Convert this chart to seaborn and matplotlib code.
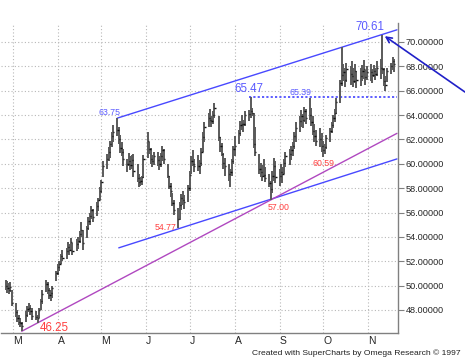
import pandas as pd
import matplotlib
matplotlib.use("Agg")
import matplotlib.pyplot as plt
import matplotlib.dates as mdates
import matplotlib.ticker as mticker
import seaborn as sns

# daily bars, one row per week (Mon-Fri), 24 Feb 1997 - 19 Nov 1997
highs = [
    50.5, 50.4, 50.2, 50.3, 49.6,
    48.6, 48.0, 47.6, 47.3, 47.0,
    47.9, 48.3, 48.6, 48.4, 48.2,
    47.9, 47.6, 48.2, 48.9, 49.6,
    50.5, 50.3, 49.8, 49.6, 50.0,
    51.2, 51.8, 52.0, 52.6, 52.9,
    53.1, 53.6, 53.4, 53.9, 53.5,
    53.8, 54.0, 54.5, 55.2, 54.6,
    54.9, 55.6, 56.0, 56.5, 56.3,
    56.9, 57.2, 58.1, 58.7, 60.2,
    60.8, 61.4, 61.9, 62.6, 63.2,
    63.75, 63.0, 62.4, 61.8, 61.2,
    60.4, 60.9, 60.6, 60.7, 60.8,
    60.0, 59.2, 58.9, 59.0, 60.7,
    62.6, 61.8, 61.3, 60.7, 61.0,
    61.0, 60.6, 60.9, 61.5, 61.2,
    60.0, 59.0, 58.4, 57.6, 57.0,
    56.4, 56.9, 57.5, 57.8, 57.4,
    58.3, 59.4, 60.6, 61.1, 60.4,
    60.7, 60.3, 61.3, 62.6, 63.4,
    64.2, 64.5, 63.9, 64.3, 65.0,
    63.9, 62.2, 61.7, 60.9, 60.5,
    60.0, 59.6, 60.4, 61.5, 62.3,
    62.8, 63.5, 64.0, 63.6, 64.3,
    64.4, 65.47, 64.6, 64.2, 63.0,
    60.8, 60.1, 59.9, 60.4, 59.7,
    59.2, 58.6, 59.4, 60.5, 60.2,
    59.6, 60.0, 59.7, 60.4, 61.0,
    61.2, 61.5, 61.8, 62.6, 63.4,
    63.9, 64.4, 64.1, 64.7, 64.5,
    65.39, 64.6, 63.9, 63.3, 62.8,
    62.9, 62.5, 61.9, 61.6, 62.4,
    62.9, 63.4, 64.0, 64.5, 65.4,
    66.9, 69.6, 68.2, 67.9, 68.3,
    68.0, 68.4, 67.9, 68.2, 67.6,
    67.9, 68.1, 68.5, 67.7, 68.0,
    68.2, 67.8, 68.1, 67.9, 68.4,
    68.6, 70.61, 67.9, 67.2, 67.9,
    68.3, 68.8, 68.6,
]
lows = [
    49.6, 49.4, 49.3, 49.5, 48.3,
    47.4, 47.0, 46.8, 46.6, 46.25,
    47.0, 47.4, 47.8, 47.6, 47.2,
    47.2, 46.9, 47.3, 48.0, 48.5,
    49.5, 49.3, 48.9, 48.7, 49.0,
    50.4, 50.9, 51.2, 51.8, 52.0,
    52.2, 52.6, 52.5, 52.8, 52.5,
    52.8, 53.0, 53.5, 54.0, 52.9,
    53.9, 54.6, 55.0, 55.5, 55.2,
    55.7, 56.1, 57.0, 57.6, 58.9,
    59.6, 60.2, 60.5, 61.4, 61.8,
    62.3, 61.6, 60.9, 60.6, 59.8,
    59.3, 59.8, 59.5, 59.6, 58.9,
    58.5, 58.1, 58.2, 58.3, 58.8,
    60.5, 60.8, 60.0, 59.7, 59.9,
    59.8, 59.5, 59.7, 60.2, 60.0,
    58.8, 57.9, 57.3, 56.5, 55.8,
    54.77, 55.4, 56.2, 56.6, 56.3,
    56.9, 57.8, 59.2, 59.8, 59.3,
    59.4, 59.2, 59.8, 61.0, 61.8,
    63.0, 63.4, 63.0, 63.3, 63.8,
    61.9, 61.0, 60.6, 59.6, 59.0,
    58.6, 58.1, 59.0, 60.0, 60.6,
    61.6, 62.3, 62.8, 62.6, 63.1,
    63.5, 63.8, 63.9, 61.3, 60.6,
    59.2, 58.9, 58.6, 58.9, 58.5,
    58.1, 57.0, 57.6, 58.6, 58.4,
    58.2, 58.6, 58.4, 59.2, 59.7,
    59.9, 60.3, 60.6, 61.2, 61.8,
    62.6, 63.0, 62.9, 63.4, 63.3,
    63.6, 63.1, 62.4, 61.8, 61.5,
    61.4, 61.0, 60.59, 60.8, 61.2,
    61.8, 62.5, 62.9, 63.4, 64.1,
    65.0, 66.4, 66.8, 66.3, 66.7,
    66.5, 66.9, 66.3, 66.6, 66.2,
    66.4, 66.8, 67.0, 66.5, 66.9,
    66.8, 66.6, 67.1, 66.9, 67.2,
    67.0, 67.4, 66.4, 66.0, 66.7,
    67.4, 67.7, 67.5,
]
closes = [
    50.0, 49.8, 49.6, 49.9, 48.6,
    47.8, 47.3, 47.0, 46.9, 46.7,
    47.6, 48.1, 48.2, 47.9, 47.5,
    47.4, 47.3, 48.0, 48.7, 49.3,
    50.1, 49.6, 49.2, 49.4, 49.8,
    51.0, 51.5, 51.8, 52.4, 52.3,
    52.8, 53.2, 52.9, 53.6, 52.8,
    53.4, 53.7, 54.2, 54.6, 53.5,
    54.7, 55.3, 55.7, 56.2, 55.6,
    56.5, 57.0, 57.8, 58.5, 59.8,
    60.4, 61.0, 61.6, 62.3, 62.6,
    62.8, 62.0, 61.3, 61.0, 60.4,
    60.0, 60.2, 59.9, 60.3, 59.4,
    58.8, 58.5, 58.6, 58.9, 60.4,
    61.9, 61.2, 60.4, 60.2, 60.6,
    60.3, 60.0, 60.6, 61.1, 60.4,
    59.0, 58.2, 57.8, 56.8, 56.2,
    55.5, 56.6, 57.2, 57.0, 56.9,
    58.0, 59.1, 60.2, 60.0, 59.8,
    59.8, 60.1, 61.0, 62.2, 63.0,
    63.8, 63.6, 63.5, 64.0, 64.6,
    62.2, 61.5, 60.8, 60.1, 59.8,
    59.2, 59.3, 60.2, 61.2, 61.5,
    62.5, 63.2, 63.3, 63.3, 64.0,
    64.1, 64.3, 64.2, 61.6, 61.0,
    59.6, 59.3, 59.0, 59.1, 58.8,
    58.4, 57.9, 59.0, 59.8, 58.9,
    59.0, 59.3, 59.2, 60.1, 60.6,
    60.8, 61.1, 61.5, 62.3, 62.9,
    63.5, 63.9, 63.6, 64.3, 63.8,
    64.0, 63.4, 62.7, 62.3, 61.9,
    62.0, 61.5, 61.1, 61.4, 62.1,
    62.7, 63.2, 63.8, 64.2, 65.1,
    66.6, 67.3, 67.5, 66.9, 67.8,
    67.4, 67.2, 66.8, 67.6, 66.9,
    67.2, 67.6, 67.8, 67.1, 67.5,
    67.5, 67.3, 67.6, 67.4, 67.9,
    67.9, 67.8, 66.8, 66.5, 67.6,
    68.0, 68.4, 68.2,
]
dates = pd.bdate_range("1997-02-24", "1997-11-19")

# trendlines (date, value) end points
upper_dates = ["1997-05-12", "1997-11-21"]
upper_vals = [63.75, 71.0]
lower_dates = ["1997-05-13", "1997-11-21"]
lower_vals = [53.1, 60.4]
purple_dates = ["1997-03-07", "1997-11-21"]
purple_vals = [46.25, 62.5]
resist_dates = ["1997-08-11", "1997-11-21"]
resist_vals = [65.47, 65.47]

# pivot labels
peak_dates = ["1997-05-12", "1997-08-12", "1997-09-22", "1997-11-11"]
peak_vals = [63.75, 65.47, 65.39, 70.61]
trough_dates = ["1997-03-07", "1997-06-23", "1997-08-26", "1997-10-01"]
trough_vals = [46.25, 54.77, 57.00, 60.59]

yticks = [48, 50, 52, 54, 56, 58, 60, 62, 64, 66, 68, 70]

sns.set_style("white")
plt.rcParams["font.family"] = ["Liberation Sans", "DejaVu Sans"]

fig = plt.figure(figsize=(4.65, 3.61), dpi=100)
ax = fig.add_axes([0.003, 0.0776, 0.8538, 0.8587])

df = pd.DataFrame({"date": dates, "high": highs, "low": lows, "close": closes})

# grid
ax.set_xlim(pd.Timestamp("1997-02-21"), pd.Timestamp("1997-11-22"))
ax.set_ylim(46.11, 71.56)
for m in pd.date_range("1997-03-01", "1997-11-01", freq="MS"):
    ax.axvline(m, color="#b8b8b8", lw=0.8, ls=(0, (1, 2)), zorder=0)
for v in yticks:
    ax.axhline(v, color="#b8b8b8", lw=0.8, ls=(0, (1, 2)), zorder=0)

# OHLC bars
ax.vlines(df["date"], df["low"], df["high"], color="#5a5a5a", lw=1.4, zorder=3)
ax.hlines(df["close"], df["date"], df["date"] + pd.Timedelta(hours=22),
          color="#101010", lw=1.0, zorder=4)

# trendlines
sns.lineplot(x=pd.to_datetime(upper_dates), y=upper_vals, ax=ax, color="#4848ff", lw=1.0)
sns.lineplot(x=pd.to_datetime(lower_dates), y=lower_vals, ax=ax, color="#4848ff", lw=1.0)
sns.lineplot(x=pd.to_datetime(purple_dates), y=purple_vals, ax=ax, color="#b048c0", lw=1.0)
ax.plot(pd.to_datetime(resist_dates), resist_vals, color="#5050ff", lw=1.3, ls=(0, (1.2, 1.2)))

# labels
blue = "#5a5aff"
red = "#ff4040"
ax.annotate("63.75", (pd.Timestamp(peak_dates[0]), peak_vals[0]), xytext=(3, 1),
            textcoords="offset pixels", ha="right", va="bottom", color=blue, fontsize=6.3)
ax.annotate("65.47", (pd.Timestamp(peak_dates[1]), peak_vals[1]), xytext=(-2, 2),
            textcoords="offset pixels", ha="center", va="bottom", color=blue, fontsize=8.3)
ax.annotate("65.39", (pd.Timestamp(peak_dates[2]), peak_vals[2]), xytext=(1, 1),
            textcoords="offset pixels", ha="right", va="bottom", color=blue, fontsize=6.3)
ax.annotate("70.61", (pd.Timestamp(peak_dates[3]), peak_vals[3]), xytext=(2, 2),
            textcoords="offset pixels", ha="right", va="bottom", color=blue, fontsize=8.3)
ax.annotate("46.25", (pd.Timestamp(trough_dates[0]), trough_vals[0]), xytext=(18, 3),
            textcoords="offset pixels", ha="left", va="center", color=red, fontsize=8.3)
ax.annotate("54.77", (pd.Timestamp(trough_dates[1]), trough_vals[1]), xytext=(-2, 0),
            textcoords="offset pixels", ha="right", va="center", color=red, fontsize=6.3)
ax.annotate("57.00", (pd.Timestamp(trough_dates[2]), trough_vals[2]), xytext=(-3, -3),
            textcoords="offset pixels", ha="left", va="top", color=red, fontsize=6.3)
ax.annotate("60.59", (pd.Timestamp(trough_dates[3]), trough_vals[3]), xytext=(0, -2),
            textcoords="offset pixels", ha="center", va="top", color=red, fontsize=6.3)

# arrow pointing at the high
ax.annotate("", xy=(pd.Timestamp(peak_dates[3]), peak_vals[3]), xytext=(1.0, 0.745),
            textcoords="figure fraction", annotation_clip=False,
            arrowprops=dict(arrowstyle="->", color="#2020c8", lw=1.2,
                            shrinkA=0, shrinkB=2, mutation_scale=10))

# axes styling
for s in ["left", "top"]:
    ax.spines[s].set_visible(False)
for s in ["right", "bottom"]:
    ax.spines[s].set_color("#808080")
    ax.spines[s].set_linewidth(1.0)

ax.yaxis.tick_right()
ax.set_yticks(yticks)
ax.yaxis.set_major_formatter(mticker.FormatStrFormatter("%.5f"))
ax.tick_params(axis="y", length=4, width=0.8, color="#808080", labelsize=6.6, pad=1)

ax.xaxis.set_major_locator(mdates.MonthLocator())
ax.xaxis.set_major_formatter(mticker.FuncFormatter(
    lambda x, p: mdates.num2date(x).strftime("%b")[0]))
ax.xaxis.set_minor_locator(mdates.WeekdayLocator(byweekday=mdates.MO))
ax.tick_params(axis="x", which="major", length=6, width=0.8, color="#606060",
               labelsize=7.5, pad=-4)
ax.tick_params(axis="x", which="minor", length=3, width=0.8, color="#606060")
for lbl in ax.get_xticklabels():
    lbl.set_ha("left")

ax.set_xlabel("")
ax.set_ylabel("")

fig.text(0.99, 0.012, "Created with SuperCharts by Omega Research \u00a9 1997",
         ha="right", va="bottom", fontsize=6.1, color="#202020")

fig.savefig("out.png", dpi=100)
